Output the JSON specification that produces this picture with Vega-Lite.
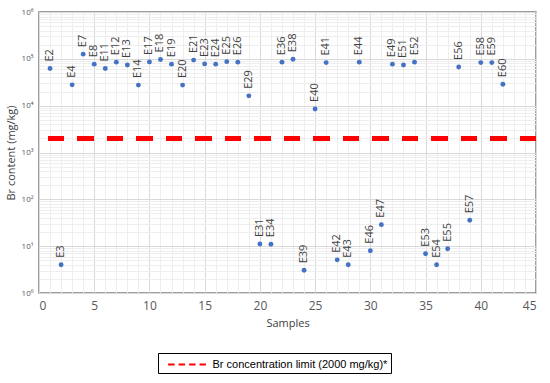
{
  "$schema": "https://vega.github.io/schema/vega-lite/v6.json",
  "width": 497,
  "height": 281,
  "autosize": "none",
  "padding": {"left": 39, "top": 12, "right": 14, "bottom": 90},
  "background": "white",
  "config": {
    "view": {"stroke": "#808080", "strokeWidth": 1.5},
    "font": "Open Sans"
  },
  "data": {
    "values": [
      {"s": 1, "id": "E2", "br": 62000},
      {"s": 2, "id": "E3", "br": 4.0},
      {"s": 3, "id": "E4", "br": 27800},
      {"s": 4, "id": "E7", "br": 126000},
      {"s": 5, "id": "E8", "br": 77000},
      {"s": 6, "id": "E11", "br": 62000},
      {"s": 7, "id": "E12", "br": 85000},
      {"s": 8, "id": "E13", "br": 74000},
      {"s": 9, "id": "E14", "br": 27500},
      {"s": 10, "id": "E17", "br": 86000},
      {"s": 11, "id": "E18", "br": 97000},
      {"s": 12, "id": "E19", "br": 77000},
      {"s": 13, "id": "E20", "br": 27500},
      {"s": 14, "id": "E21", "br": 94000},
      {"s": 15, "id": "E23", "br": 78000},
      {"s": 16, "id": "E24", "br": 77000},
      {"s": 17, "id": "E25", "br": 87000},
      {"s": 18, "id": "E26", "br": 85000},
      {"s": 19, "id": "E29", "br": 16200},
      {"s": 20, "id": "E31", "br": 11.1},
      {"s": 21, "id": "E34", "br": 11.0},
      {"s": 22, "id": "E36", "br": 85000},
      {"s": 23, "id": "E38", "br": 98000},
      {"s": 24, "id": "E39", "br": 3.05},
      {"s": 25, "id": "E40", "br": 8500},
      {"s": 26, "id": "E41", "br": 83000},
      {"s": 27, "id": "E42", "br": 5.1},
      {"s": 28, "id": "E43", "br": 4.0},
      {"s": 29, "id": "E44", "br": 85000},
      {"s": 30, "id": "E46", "br": 8.0},
      {"s": 31, "id": "E47", "br": 28.8},
      {"s": 32, "id": "E49", "br": 77000},
      {"s": 33, "id": "E51", "br": 74000},
      {"s": 34, "id": "E52", "br": 85000},
      {"s": 35, "id": "E53", "br": 6.9},
      {"s": 36, "id": "E54", "br": 4.0},
      {"s": 37, "id": "E55", "br": 8.8},
      {"s": 38, "id": "E56", "br": 67000},
      {"s": 39, "id": "E57", "br": 35.7},
      {"s": 40, "id": "E58", "br": 83000},
      {"s": 41, "id": "E59", "br": 83000},
      {"s": 42, "id": "E60", "br": 28700}
    ]
  },
  "resolve": {"axis": {"x": "independent", "y": "independent"}},
  "layer": [
    {
      "mark": {"type": "circle", "size": 24, "color": "#4472C4", "opacity": 1},
      "encoding": {
        "x": {
          "field": "s", "type": "quantitative",
          "scale": {"domain": [0, 45], "nice": false, "zero": false},
          "axis": {
            "orient": "bottom",
            "values": [0,1,2,3,4,5,6,7,8,9,10,11,12,13,14,15,16,17,18,19,20,21,22,23,24,25,26,27,28,29,30,31,32,33,34,35,36,37,38,39,40,41,42,43,44,45],
            "grid": true, "gridColor": "#eeeeee", "gridWidth": 1,
            "labels": false, "ticks": false, "domain": false, "title": null
          }
        },
        "y": {
          "field": "br", "type": "quantitative",
          "scale": {"type": "log", "domain": [1, 1000000], "nice": false},
          "axis": {
            "orient": "left",
            "values": [2,3,4,5,6,7,8,9,20,30,40,50,60,70,80,90,200,300,400,500,600,700,800,900,2000,3000,4000,5000,6000,7000,8000,9000,20000,30000,40000,50000,60000,70000,80000,90000,200000,300000,400000,500000,600000,700000,800000,900000],
            "grid": true, "gridColor": "#eeeeee", "gridWidth": 1,
            "labels": false, "ticks": false, "domain": false, "title": null
          }
        }
      }
    },
    {
      "mark": {"type": "text", "angle": 270, "align": "left", "baseline": "middle", "dx": 7, "fontSize": 11, "font": "Open Sans", "color": "#404040"},
      "encoding": {
        "x": {
          "field": "s", "type": "quantitative",
          "axis": {
            "orient": "bottom",
            "values": [0,5,10,15,20,25,30,35,40,45],
            "grid": true, "gridColor": "#d9d9d9", "gridWidth": 1,
            "ticks": false, "domain": false,
            "labelFont": "Open Sans", "labelFontSize": 12, "labelColor": "#595959", "labelPadding": 7,
            "title": "Samples", "titleFont": "Open Sans", "titleFontSize": 11, "titleFontWeight": "normal", "titleColor": "#404040", "titlePadding": 6
          }
        },
        "y": {
          "field": "br", "type": "quantitative",
          "axis": {
            "orient": "left",
            "values": [1,10,100,1000,10000,100000,1000000],
            "labelExpr": "'10' + ['⁰','¹','²','³','⁴','⁵','⁶'][round(log(datum.value)/LN10)]",
            "grid": true, "gridColor": "#d9d9d9", "gridWidth": 1,
            "ticks": false, "domain": false,
            "labelFont": "Open Sans", "labelFontSize": 8, "labelColor": "#595959", "labelPadding": 6,
            "title": "Br content (mg/kg)", "titleFont": "Open Sans", "titleFontSize": 11, "titleFontWeight": "normal", "titleColor": "#404040", "titlePadding": 5
          }
        },
        "text": {"field": "id"}
      }
    },
    {
      "mark": {"type": "rule", "strokeWidth": 4, "strokeDash": [16, 13.5]},
      "encoding": {
        "y": {"datum": 2000, "type": "quantitative", "axis": null},
        "color": {
          "datum": "Br concentration limit (2000 mg/kg)*",
          "type": "nominal",
          "scale": {"range": ["#ff0000"]},
          "legend": {
            "title": null,
            "orient": "none",
            "legendX": 119,
            "legendY": 341,
            "strokeColor": "#000000",
            "padding": 3.5,
            "symbolType": "M-2.7,0H2.7",
            "symbolSize": 196,
            "labelFont": "Liberation Sans",
            "labelFontSize": 11,
            "labelColor": "#000000",
            "labelOffset": 35,
            "labelLimit": 300,
            "encode": {
              "symbols": {
                "update": {
                  "x": {"value": 25.5},
                  "strokeDash": {"value": [6.5, 4]},
                  "strokeWidth": {"value": 1.8},
                  "stroke": {"value": "#ff0000"}
                }
              }
            }
          }
        }
      }
    }
  ]
}
